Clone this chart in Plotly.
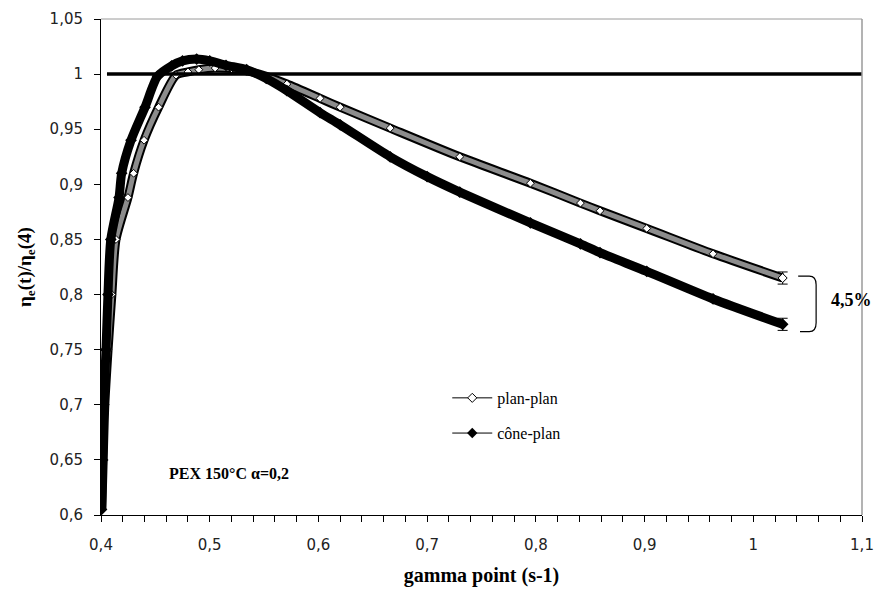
import plotly.graph_objects as go

# ---- data ----
plan_x = [0.4008, 0.402, 0.4035, 0.4065, 0.410, 0.4138, 0.4248, 0.430, 0.4396, 0.453,
          0.469, 0.480, 0.490, 0.505, 0.520, 0.534, 0.552, 0.571, 0.6015, 0.620,
          0.666, 0.730, 0.795, 0.841, 0.859, 0.902, 0.963, 1.027]
plan_y = [0.605, 0.650, 0.700, 0.750, 0.800, 0.850, 0.888, 0.910, 0.940, 0.970,
          0.999, 1.002, 1.004, 1.0055, 1.005, 1.003, 0.998, 0.991, 0.978, 0.970,
          0.951, 0.925, 0.901, 0.883, 0.876, 0.860, 0.837, 0.815]

cone_x = [0.4005, 0.4015, 0.4025, 0.4046, 0.4064, 0.409, 0.4166, 0.419, 0.4276, 0.4405,
          0.452, 0.465, 0.475, 0.488, 0.500, 0.515, 0.534, 0.552, 0.571, 0.6015,
          0.620, 0.666, 0.700, 0.730, 0.795, 0.841, 0.859, 0.902, 0.963, 1.027]
cone_y = [0.605, 0.650, 0.700, 0.750, 0.800, 0.850, 0.888, 0.910, 0.940, 0.970,
          0.998, 1.0075, 1.012, 1.0136, 1.012, 1.008, 1.004, 0.996, 0.985, 0.965,
          0.954, 0.925, 0.907, 0.893, 0.865, 0.846, 0.838, 0.821, 0.796, 0.773]

plan_err = 0.0055
cone_err = 0.0055
ref_level = 1.0

y_tickvals = [0.6, 0.65, 0.7, 0.75, 0.8, 0.85, 0.9, 0.95, 1.0, 1.05]
y_ticktext = ["0,6", "0,65", "0,7", "0,75", "0,8", "0,85", "0,9", "0,95", "1", "1,05"]
x_tickvals = [0.4, 0.5, 0.6, 0.7, 0.8, 0.9, 1.0, 1.1]
x_ticktext = ["0,4", "0,5", "0,6", "0,7", "0,8", "0,9", "1", "1,1"]

SERIF = "Liberation Serif, Times New Roman, serif"
SANS = "DejaVu Sans, Verdana, sans-serif"

fig = go.Figure()

# plan-plan band (dense open diamonds look)
fig.add_trace(go.Scatter(x=plan_x, y=plan_y, mode="lines", showlegend=False,
                         line=dict(color="black", width=9, shape="spline", smoothing=0.7),
                         hoverinfo="skip"))
fig.add_trace(go.Scatter(x=plan_x, y=plan_y, mode="lines+markers", showlegend=False,
                         line=dict(color="#8c8c8c", width=5, shape="spline", smoothing=0.7),
                         marker=dict(symbol="diamond", size=6, color="white",
                                     line=dict(color="black", width=1))))
# cone-plan band
fig.add_trace(go.Scatter(x=cone_x, y=cone_y, mode="lines+markers", showlegend=False,
                         line=dict(color="black", width=9, shape="spline", smoothing=0.7),
                         marker=dict(symbol="diamond", size=9, color="black")))

# error bars at the last points
fig.add_trace(go.Scatter(x=[plan_x[-1]], y=[plan_y[-1]], mode="markers", showlegend=False,
                         marker=dict(symbol="diamond", size=7, color="white",
                                     line=dict(color="black", width=1)),
                         error_y=dict(type="constant", value=plan_err, color="black",
                                      thickness=1, width=5)))
fig.add_trace(go.Scatter(x=[cone_x[-1]], y=[cone_y[-1]], mode="markers", showlegend=False,
                         marker=dict(symbol="diamond", size=8, color="black"),
                         error_y=dict(type="constant", value=cone_err, color="black",
                                      thickness=1, width=5)))

# legend entries
fig.add_trace(go.Scatter(x=[None], y=[None], mode="lines+markers", name="plan-plan",
                         line=dict(color="black", width=1),
                         marker=dict(symbol="diamond", size=7, color="white",
                                     line=dict(color="black", width=1)),
                         legend="legend"))
fig.add_trace(go.Scatter(x=[None], y=[None], mode="lines+markers", name="cône-plan",
                         line=dict(color="black", width=1),
                         marker=dict(symbol="diamond", size=8, color="black"),
                         legend="legend2"))

# reference line at 1
fig.add_shape(type="line", xref="x", yref="y", x0=0.4055, x1=1.1, y0=ref_level, y1=ref_level,
              line=dict(color="black", width=3.5))

# frame top/right (gray)
fig.add_shape(type="line", xref="paper", yref="paper", x0=0, x1=1, y0=1, y1=1,
              line=dict(color="#9a9a9a", width=1))
fig.add_shape(type="line", xref="paper", yref="paper", x0=1, x1=1, y0=0, y1=1,
              line=dict(color="#9a9a9a", width=1.5))

# bracket for 4,5 %
fig.add_shape(type="path", xref="x", yref="y",
              path="M 1.0413,0.8168 L 1.0515,0.8168 Q 1.0578,0.8168 1.0578,0.8090 "
                   "L 1.0578,0.7745 Q 1.0578,0.7664 1.0515,0.7664 L 1.0430,0.7664",
              line=dict(color="black", width=1.2))

fig.add_annotation(x=1.0697, y=0.795, xref="x", yref="y", text="<b>4,5%</b>",
                   showarrow=False, xanchor="left", yanchor="middle",
                   font=dict(family=SERIF, size=18, color="black"))
fig.add_annotation(x=0.4607, y=0.638, xref="x", yref="y", text="<b>PEX 150°C α=0,2</b>",
                   showarrow=False, xanchor="left", yanchor="middle",
                   font=dict(family=SERIF, size=16, color="black"))

fig.update_layout(
    width=875, height=601,
    margin=dict(l=101, r=13, t=19, b=86),
    paper_bgcolor="white", plot_bgcolor="white",
    showlegend=True,
    legend=dict(x=0.455, y=0.236, xanchor="left", yanchor="middle",
                bgcolor="rgba(0,0,0,0)", font=dict(family=SERIF, size=16, color="black"),
                itemwidth=40),
    legend2=dict(x=0.455, y=0.165, xanchor="left", yanchor="middle",
                 bgcolor="rgba(0,0,0,0)", font=dict(family=SERIF, size=16, color="black"),
                 itemwidth=40),
    xaxis=dict(range=[0.4, 1.1], tickvals=x_tickvals, ticktext=x_ticktext, automargin=False,
               showgrid=False, zeroline=False, showline=True, linecolor="black", linewidth=1,
               ticks="outside", ticklen=6, tickcolor="black", ticklabelstandoff=10,
               minor=dict(dtick=0.02, tick0=0.4, ticks="outside", ticklen=6, tickcolor="black"),
               tickfont=dict(family=SANS, size=15, color="#222"),
               title=dict(text="<b>gamma point (s-1)</b>", standoff=14,
                          font=dict(family=SERIF, size=20, color="black"))),
    yaxis=dict(range=[0.6, 1.05], tickvals=y_tickvals, ticktext=y_ticktext, automargin=False,
               showgrid=False, zeroline=False, showline=True, linecolor="black", linewidth=1,
               ticks="outside", ticklen=6, tickcolor="black", ticklabelstandoff=8,
               tickfont=dict(family=SANS, size=15, color="#222"),
               title=dict(text="<b>η<sub>e</sub>(t)/η<sub>e</sub>(4)</b>", standoff=12,
                          font=dict(family=SERIF, size=19, color="black"))),
)

# remove the default page margin and scrollbars so the figure fills the window exactly
page_fix = ("document.documentElement.style.margin='0';"
            "document.documentElement.style.overflow='hidden';"
            "document.body.style.margin='0';"
            "document.body.style.overflow='hidden';")
fig.write_html("out.html", post_script=page_fix, config={"displayModeBar": False})
